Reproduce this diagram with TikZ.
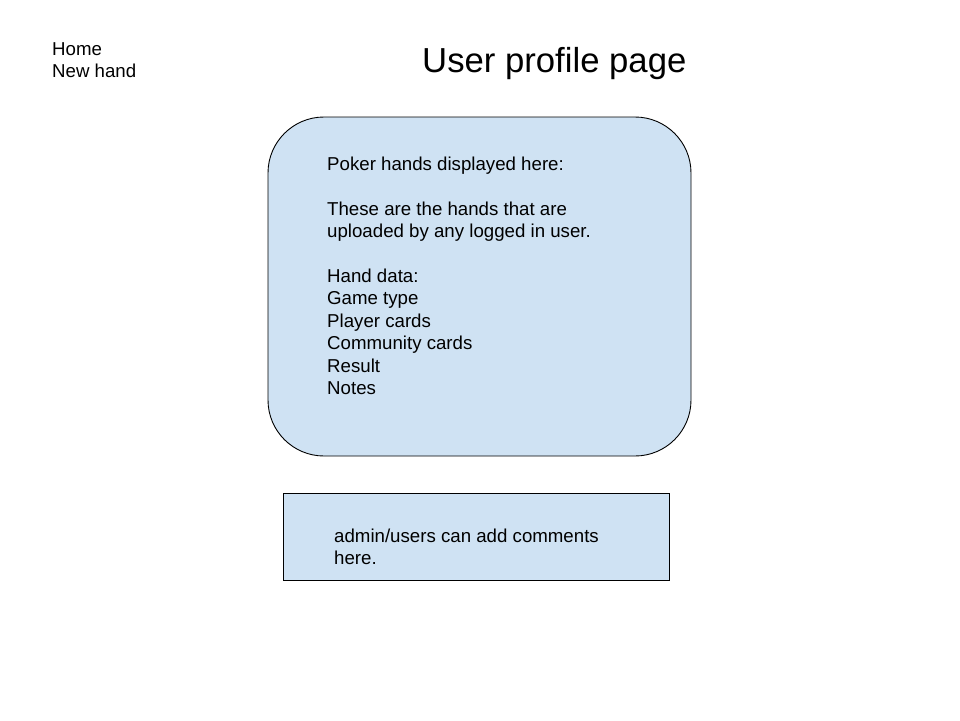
\documentclass[tikz,border=0pt]{standalone}
\usepackage{fontspec}
\setmainfont{Liberation Sans}
\definecolor{panelblue}{HTML}{CFE2F3}
\begin{document}
\begin{tikzpicture}[x=1pt,y=-1pt,
  panel/.style={draw=black,line width=0.9pt,fill=panelblue},
  bodytext/.style={anchor=base west,inner sep=0pt,font=\fontsize{18.67}{22.4}\selectfont},
  titletext/.style={anchor=base west,inner sep=0pt,font=\fontsize{34.7}{40}\selectfont}]
  \useasboundingbox (0,0) rectangle (960,720);

  % navigation links
  \node[bodytext] (nav) at (52,55.5)
    {\begin{tabular}[t]{@{}l@{}}Home\\New hand\end{tabular}};

  % page title
  \node[titletext] (title) at (422,72) {User profile page};

  % hands panel
  \draw[panel,rounded corners=56pt] (268,117) rectangle (691,456);
  \node[bodytext] (hands) at (327,170.5)
    {\begin{tabular}[t]{@{}l@{}}Poker hands displayed here:\\
      \\
      These are the hands that are\\
      uploaded by any logged in user.\\
      \\
      Hand data:\\
      Game type\\
      Player cards\\
      Community cards\\
      Result\\
      Notes\end{tabular}};

  % comments panel
  \draw[panel] (283,493) rectangle (669,580);
  \node[bodytext] (comments) at (334,542.5)
    {\begin{tabular}[t]{@{}l@{}}admin/users can add comments\\here.\end{tabular}};
\end{tikzpicture}
\end{document}
